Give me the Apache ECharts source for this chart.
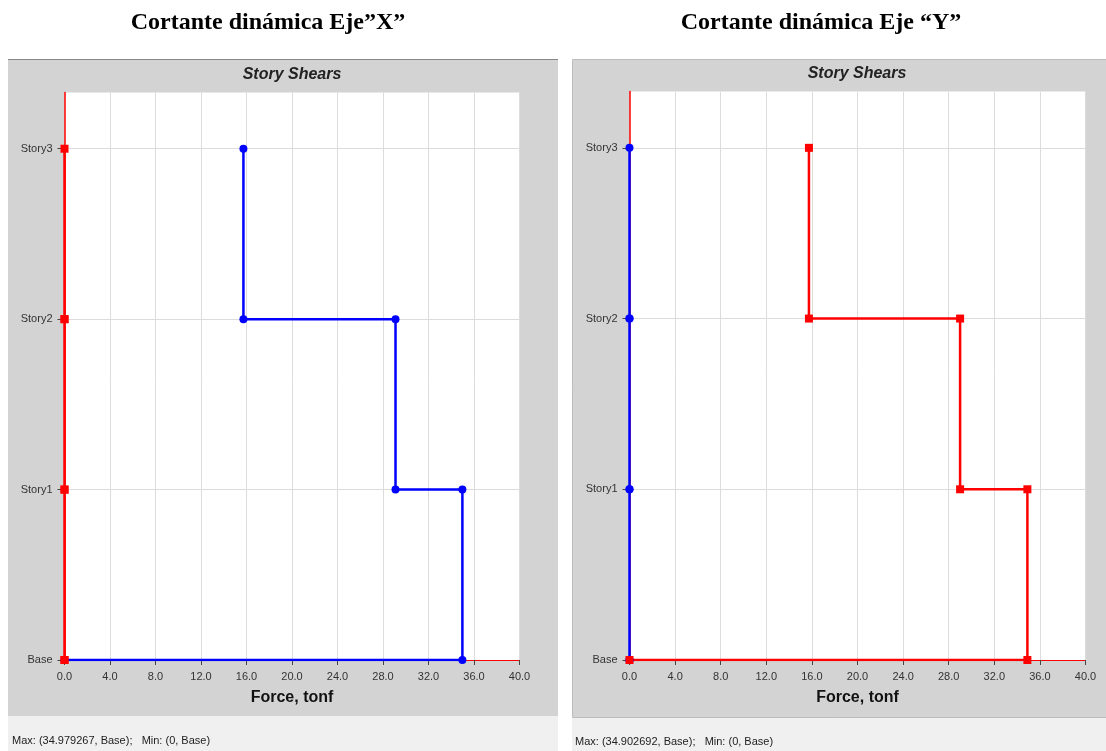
<!DOCTYPE html>
<html>
<head>
<meta charset="utf-8">
<script src="https://cdn.jsdelivr.net/npm/echarts@6/dist/echarts.min.js"></script>
<style>
html,body{margin:0;padding:0;background:#fff;}
#c{width:1106px;height:751px;}
</style>
</head>
<body>
<div id="c"></div>
<script>
// ---- data ----
const stories = ['Base', 'Story1', 'Story2', 'Story3'];
const xTicks = [0, 4, 8, 12, 16, 20, 24, 28, 32, 36, 40];
// Story shears (Story1..Story3), tonf
const caseX_dirX = [34.979267, 29.1, 15.73];   // blue, left chart
const caseX_dirY = [0, 0, 0];                  // red, left chart
const caseY_dirX = [0, 0, 0];                  // blue, right chart
const caseY_dirY = [34.902692, 29.0, 15.74];   // red, right chart
const panelTitles = ['Cortante dinámica Eje\u201dX\u201d', 'Cortante dinámica Eje \u201cY\u201d'];
const statusTexts = ['Max: (34.979267, Base);   Min: (0, Base)', 'Max: (34.902692, Base);   Min: (0, Base)'];

function stepPoints(vals) {
  const pts = [];
  for (let k = vals.length; k >= 1; k--) {
    pts.push([vals[k - 1], k]);
    pts.push([vals[k - 1], k - 1]);
  }
  pts.push([0, 0]);
  return pts;
}

const chart = echarts.init(document.getElementById('c'), null, {renderer: 'canvas'});

const grids = [
  {left: 64.5, top: 92.5, width: 455, height: 567.5},
  {left: 629.5, top: 91.5, width: 456, height: 568.5}
];

function xAxisDef(i) {
  return {
    gridIndex: i, type: 'value', min: xTicks[0], max: xTicks[xTicks.length - 1], interval: xTicks[1] - xTicks[0],
    axisLine: {show: true, onZero: false, lineStyle: {color: '#ff0000', width: 1}},
    axisTick: {show: true, length: 5, lineStyle: {color: '#444'}},
    axisLabel: {color: '#333', fontSize: 11, fontFamily: 'Liberation Sans, Arial', margin: 11,
      formatter: v => v.toFixed(1)},
    splitLine: {show: true, lineStyle: {color: '#dcdcdc', width: 1}},
    name: 'Force, tonf', nameLocation: 'middle', nameGap: 30,
    nameTextStyle: {color: '#111', fontSize: 16, fontWeight: 'bold', fontFamily: 'Liberation Sans, Arial'}
  };
}
function yAxisDef(i) {
  return {
    gridIndex: i, type: 'value', min: 0, max: 3.33, interval: 1,
    axisLine: {show: true, onZero: false, lineStyle: {color: '#ff0000', width: 1.5}},
    axisTick: {show: true, length: 7, lineStyle: {color: '#444'}, customValues: [0, 1, 2, 3]},
    axisLabel: {color: '#333', fontSize: 11, fontFamily: 'Liberation Sans, Arial', margin: 12,
      customValues: [0, 1, 2, 3],
      formatter: v => { const r = Math.round(v); return Math.abs(v - r) < 1e-6 && stories[r] ? stories[r] : ''; }},
    splitLine: {show: true, lineStyle: {color: '#dcdcdc', width: 1}}
  };
}
function seriesDef(i, vals, color, symbol) {
  return {
    type: 'line', xAxisIndex: i, yAxisIndex: i,
    data: stepPoints(vals),
    symbol: symbol, symbolSize: 8, showSymbol: true,
    lineStyle: {color: color, width: 2.5},
    itemStyle: {color: color},
    animation: false, silent: true
  };
}

const graphic = [
  // frames
  {type: 'rect', z: -10, shape: {x: 8, y: 60, width: 550, height: 656}, style: {fill: '#d3d3d3'}},
  {type: 'line', z: -9, shape: {x1: 8, y1: 59.5, x2: 558, y2: 59.5}, style: {stroke: '#888', lineWidth: 1}},
  {type: 'rect', z: -10, shape: {x: 8, y: 716, width: 550, height: 35}, style: {fill: '#f0f0f0'}},
  {type: 'rect', z: -10, shape: {x: 572.5, y: 59.5, width: 540, height: 658}, style: {fill: '#d3d3d3', stroke: '#bcbcbc', lineWidth: 1}},
  {type: 'rect', z: -10, shape: {x: 572, y: 718, width: 534, height: 33}, style: {fill: '#f0f0f0'}},
  // top titles
  {type: 'text', x: 268, y: 23, style: {text: panelTitles[0], fill: '#000', font: 'bold 24px "Liberation Serif", "Times New Roman", serif', textAlign: 'center', textVerticalAlign: 'middle'}},
  {type: 'text', x: 821, y: 23, style: {text: panelTitles[1], fill: '#000', font: 'bold 24px "Liberation Serif", "Times New Roman", serif', textAlign: 'center', textVerticalAlign: 'middle'}},
  // inner titles
  {type: 'text', x: 292, y: 75, style: {text: 'Story Shears', fill: '#222', font: 'italic bold 16px "Liberation Sans", Arial', textAlign: 'center', textVerticalAlign: 'middle'}},
  {type: 'text', x: 857, y: 74, style: {text: 'Story Shears', fill: '#222', font: 'italic bold 16px "Liberation Sans", Arial', textAlign: 'center', textVerticalAlign: 'middle'}},
  // status
  {type: 'text', x: 12, y: 741, style: {text: statusTexts[0], fill: '#222', font: '11px "Liberation Sans", Arial', textAlign: 'left', textVerticalAlign: 'middle'}},
  {type: 'text', x: 575, y: 742, style: {text: statusTexts[1], fill: '#222', font: '11px "Liberation Sans", Arial', textAlign: 'left', textVerticalAlign: 'middle'}}
];

chart.setOption({
  animation: false,
  backgroundColor: '#ffffff',
  grid: grids.map(g => Object.assign({show: true, backgroundColor: '#ffffff', borderWidth: 0}, g)),
  xAxis: [xAxisDef(0), xAxisDef(1)],
  yAxis: [yAxisDef(0), yAxisDef(1)],
  series: [
    seriesDef(0, caseX_dirX, '#0000ff', 'circle'),
    seriesDef(0, caseX_dirY, '#ff0000', 'rect'),
    seriesDef(1, caseY_dirX, '#0000ff', 'circle'),
    seriesDef(1, caseY_dirY, '#ff0000', 'rect')
  ],
  graphic: graphic
});
</script>
</body>
</html>
